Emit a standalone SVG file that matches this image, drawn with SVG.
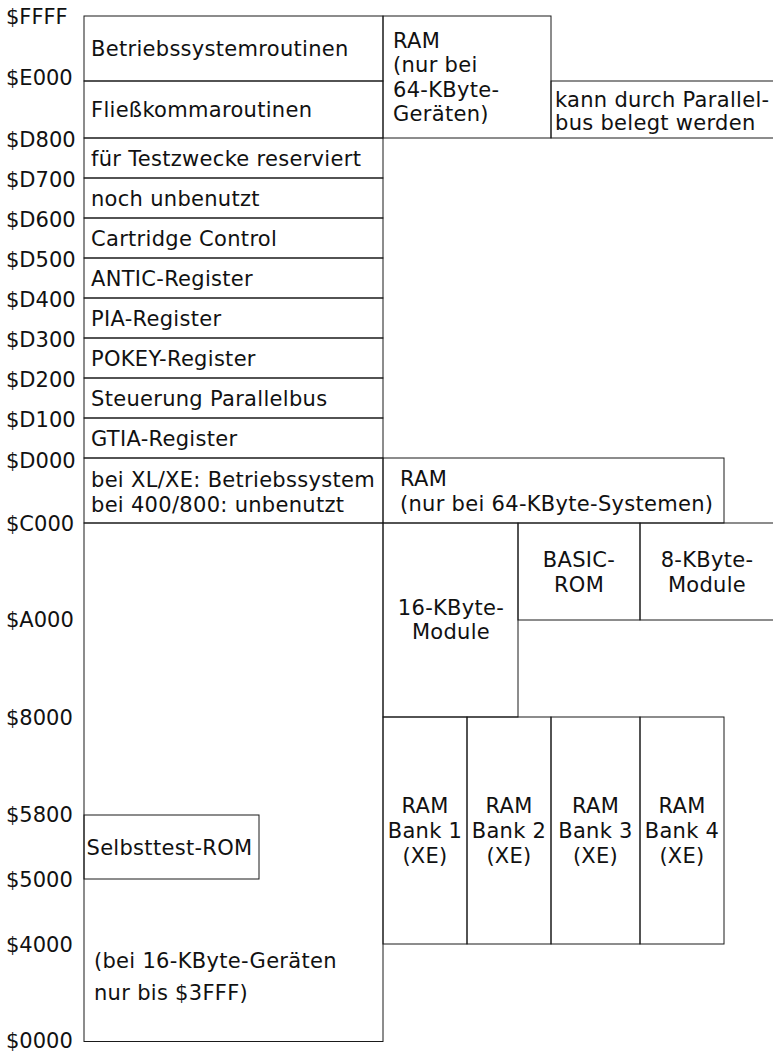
<svg xmlns="http://www.w3.org/2000/svg" width="773" height="1052" viewBox="0 0 773 1052">
<style>
rect{fill:none;stroke:#1a1a1a;stroke-width:1}
text{font-family:"DejaVu Sans",sans-serif;font-size:21px;letter-spacing:0.3px;fill:#111}
.c{text-anchor:middle}
.l{letter-spacing:0}
</style>
<rect x="0" y="0" width="773" height="1052" style="fill:#fff;stroke:none"/>
<g id="labels" class="l">
<text class="l" x="6" y="24">$FFFF</text>
<text class="l" x="6" y="85">$E000</text>
<text class="l" x="6" y="147">$D800</text>
<text class="l" x="6" y="187">$D700</text>
<text class="l" x="6" y="227">$D600</text>
<text class="l" x="6" y="267">$D500</text>
<text class="l" x="6" y="307">$D400</text>
<text class="l" x="6" y="347">$D300</text>
<text class="l" x="6" y="387">$D200</text>
<text class="l" x="6" y="427">$D100</text>
<text class="l" x="6" y="468">$D000</text>
<text class="l" x="6" y="531">$C000</text>
<text class="l" x="6" y="627">$A000</text>
<text class="l" x="6" y="725">$8000</text>
<text class="l" x="6" y="822">$5800</text>
<text class="l" x="6" y="887">$5000</text>
<text class="l" x="6" y="952">$4000</text>
<text class="l" x="6" y="1048">$0000</text>
</g>
<g id="os"><rect x="84" y="16" width="299" height="65"/><text x="91" y="56">Betriebssystemroutinen</text></g>
<g id="fp"><rect x="84" y="81" width="299" height="57"/><text x="91" y="117">Fließkommaroutinen</text></g>
<g id="test"><rect x="84" y="138" width="299" height="40"/><text x="91" y="166">für Testzwecke reserviert</text></g>
<g id="unused"><rect x="84" y="178" width="299" height="40"/><text x="91" y="206">noch unbenutzt</text></g>
<g id="cart"><rect x="84" y="218" width="299" height="40"/><text x="91" y="246">Cartridge Control</text></g>
<g id="antic"><rect x="84" y="258" width="299" height="40"/><text x="91" y="286">ANTIC-Register</text></g>
<g id="pia"><rect x="84" y="298" width="299" height="40"/><text x="91" y="326">PIA-Register</text></g>
<g id="pokey"><rect x="84" y="338" width="299" height="40"/><text x="91" y="366">POKEY-Register</text></g>
<g id="parallel"><rect x="84" y="378" width="299" height="40"/><text x="91" y="406">Steuerung Parallelbus</text></g>
<g id="gtia"><rect x="84" y="418" width="299" height="40"/><text x="91" y="446">GTIA-Register</text></g>
<g id="xlxe"><rect x="84" y="458" width="299" height="65"/><text x="91" y="487">bei XL/XE: Betriebssystem</text><text x="91" y="512">bei 400/800: unbenutzt</text></g>
<g id="lowram"><rect x="84" y="523" width="299" height="518.5"/><text x="94" y="968">(bei 16-KByte-Geräten</text><text x="94" y="1000">nur bis $3FFF)</text></g>
<g id="selftest"><rect x="84" y="815" width="175" height="64"/><text x="86.5" y="855">Selbsttest-ROM</text></g>
<g id="ramtop"><rect x="383" y="16" width="168" height="122"/><text x="393" y="47.5">RAM</text><text x="393" y="72">(nur bei</text><text x="393" y="96.5">64-KByte-</text><text x="393" y="120.5">Geräten)</text></g>
<g id="parbus"><rect x="551" y="81" width="223" height="57"/><text x="555" y="107">kann durch Parallel-</text><text x="555" y="130">bus belegt werden</text></g>
<g id="ramlow"><rect x="383" y="458" width="341" height="65"/><text x="400" y="486">RAM</text><text x="400" y="511">(nur bei 64-KByte-Systemen)</text></g>
<g id="mod16"><rect x="383" y="523" width="135" height="194"/><text class="c" x="451" y="615">16-KByte-</text><text class="c" x="451" y="639">Module</text></g>
<g id="basic"><rect x="518" y="523" width="122" height="97"/><text class="c" x="579" y="567">BASIC-</text><text class="c" x="579" y="591.5">ROM</text></g>
<g id="mod8"><rect x="640" y="523" width="134" height="97"/><text class="c" x="707" y="567">8-KByte-</text><text class="c" x="707" y="591.5">Module</text></g>
<g id="bank1"><rect x="383" y="717" width="84" height="227"/><text class="c" x="425" y="813">RAM</text><text class="c" x="425" y="838">Bank 1</text><text class="c" x="425" y="863">(XE)</text></g>
<g id="bank2"><rect x="467" y="717" width="84" height="227"/><text class="c" x="509" y="813">RAM</text><text class="c" x="509" y="838">Bank 2</text><text class="c" x="509" y="863">(XE)</text></g>
<g id="bank3"><rect x="551" y="717" width="89" height="227"/><text class="c" x="595.5" y="813">RAM</text><text class="c" x="595.5" y="838">Bank 3</text><text class="c" x="595.5" y="863">(XE)</text></g>
<g id="bank4"><rect x="640" y="717" width="84" height="227"/><text class="c" x="682" y="813">RAM</text><text class="c" x="682" y="838">Bank 4</text><text class="c" x="682" y="863">(XE)</text></g>
<g id="connectors"></g>
</svg>
